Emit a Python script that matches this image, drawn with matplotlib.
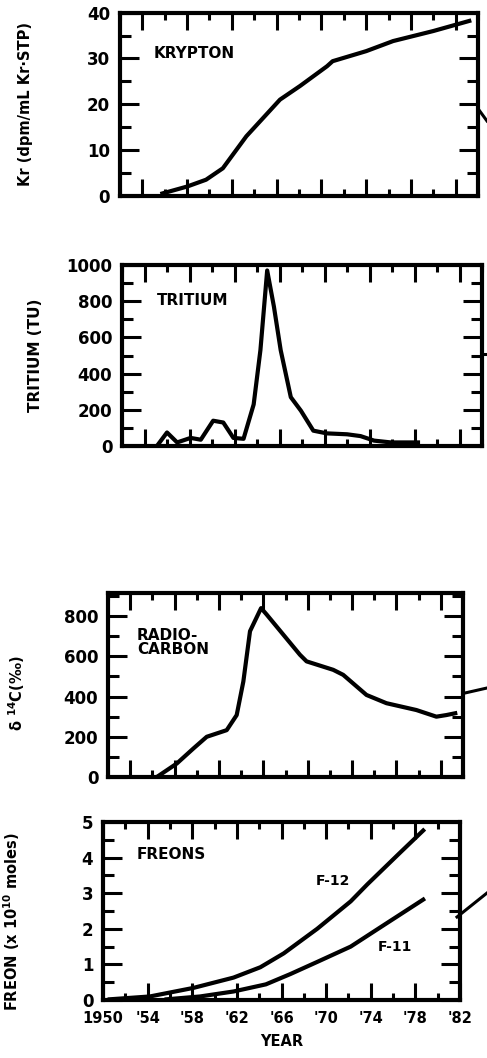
import numpy as np
import matplotlib.pyplot as plt
from matplotlib.lines import Line2D
from matplotlib.ticker import MultipleLocator

plt.rcParams['font.family'] = ['DejaVu Sans']
plt.rcParams['font.weight'] = 'bold'

# krypton-85
kr_year = [1953.8, 1956.0, 1957.7, 1959.2, 1961.3, 1964.3, 1966.1, 1968.5, 1969.0, 1972.0, 1974.4, 1978.0, 1981.2]
kr_val = [0.5, 2.0, 3.5, 6.0, 13.0, 21.0, 24.0, 28.3, 29.4, 31.6, 33.8, 36.0, 38.2]

# tritium
tr_year = [1953.1, 1954.0, 1954.9, 1956.1, 1957.0, 1958.1, 1959.0, 1959.9, 1960.8, 1961.7, 1962.3,
           1962.9, 1963.5, 1964.1, 1965.0, 1965.9, 1967.0, 1968.2, 1970.0, 1971.2, 1972.4, 1973.9, 1976.3]
tr_val = [0, 75, 20, 45, 35, 140, 130, 45, 40, 230, 530, 970, 770, 530, 270, 195, 85, 70, 65, 55, 30, 20, 20]

# radiocarbon delta 14C
c14_year = [1954.4, 1956.2, 1957.7, 1958.9, 1960.7, 1961.6, 1962.2, 1962.8, 1963.8, 1964.3, 1965.8,
            1967.3, 1967.9, 1970.3, 1971.2, 1973.3, 1975.1, 1977.8, 1979.6, 1980.5, 1981.3]
c14_val = [0, 67, 142, 200, 233, 308, 475, 725, 840, 808, 708, 608, 575, 533, 508, 408, 367, 333, 300, 308, 317]

# freons
f12_year = [1950.6, 1954.2, 1958.1, 1961.7, 1964.1, 1966.2, 1969.2, 1972.2, 1973.7, 1976.6, 1978.7]
f12_val = [0.02, 0.1, 0.34, 0.63, 0.92, 1.31, 2.0, 2.77, 3.25, 4.13, 4.76]
f11_year = [1955.7, 1958.7, 1961.7, 1964.6, 1966.8, 1969.2, 1972.2, 1975.1, 1978.7]
f11_val = [0.02, 0.1, 0.24, 0.44, 0.73, 1.07, 1.5, 2.09, 2.82]

year_ticks = [1950, 1954, 1958, 1962, 1966, 1970, 1974, 1978, 1982]
year_labels = ['1950', "'54", "'58", "'62", "'66", "'70", "'74", "'78", "'82"]

fig = plt.figure(figsize=(4.87, 10.58), dpi=100)

ax1 = fig.add_axes([0.246, 0.815, 0.736, 0.173])
ax2 = fig.add_axes([0.2505, 0.5784, 0.7395, 0.1711])
ax3 = fig.add_axes([0.2218, 0.2656, 0.7289, 0.1739])
ax4 = fig.add_axes([0.2115, 0.0548, 0.7331, 0.1683])

lw = 3.0


def style(ax, ymax, ymajor, yminor):
    ax.set_xlim(1950, 1982)
    ax.set_ylim(0, ymax)
    ax.xaxis.set_major_locator(MultipleLocator(4))
    ax.xaxis.set_minor_locator(MultipleLocator(2))
    ax.yaxis.set_major_locator(MultipleLocator(ymajor))
    ax.yaxis.set_minor_locator(MultipleLocator(yminor))
    ax.tick_params(axis='both', which='both', direction='in', top=True, right=True, width=2.2)
    ax.tick_params(axis='x', which='major', length=12)
    ax.tick_params(axis='x', which='minor', length=5)
    ax.tick_params(axis='y', which='major', length=14, labelsize=12, pad=7)
    ax.tick_params(axis='y', which='minor', length=8)
    for sp in ax.spines.values():
        sp.set_linewidth(3)
    ax.set_xticklabels([])


style(ax1, 40, 10, 5)
ax1.plot(kr_year, kr_val, color='black', lw=lw)
ax1.text(1953, 31, 'KRYPTON', fontsize=11, fontweight='bold', va='center')
ax1.set_ylabel('Kr (dpm/mL Kr·STP)', fontsize=10.5, fontweight='bold')
ax1.yaxis.set_label_coords(-0.243, 0.5)

style(ax2, 1000, 200, 100)
ax2.plot(tr_year, tr_val, color='black', lw=lw)
ax2.text(1953.1, 805, 'TRITIUM', fontsize=11, fontweight='bold', va='center')
ax2.set_ylabel('TRITIUM (TU)', fontsize=11, fontweight='bold')
ax2.yaxis.set_label_coords(-0.219, 0.5)

style(ax3, 915, 200, 100)
ax3.plot(c14_year, c14_val, color='black', lw=lw)
ax3.text(1952.6, 670, 'RADIO-\nCARBON', fontsize=11, fontweight='bold', va='center', linespacing=0.95)
ax3.set_ylabel('δ $^{14}$C(‰)', fontsize=10.5, fontweight='bold')
ax3.yaxis.set_label_coords(-0.228, 0.457)

style(ax4, 5, 1, 0.5)
ax4.plot(f12_year, f12_val, color='black', lw=lw)
ax4.plot(f11_year, f11_val, color='black', lw=lw)
ax4.text(1953, 4.1, 'FREONS', fontsize=11, fontweight='bold', va='center')
ax4.text(1969.1, 3.35, 'F-12', fontsize=10, fontweight='bold', va='center')
ax4.text(1974.6, 1.5, 'F-11', fontsize=10, fontweight='bold', va='center')
ax4.set_ylabel('FREON (x 10$^{10}$ moles)', fontsize=10.5, fontweight='bold')
ax4.yaxis.set_label_coords(-0.227, 0.438)
ax4.set_xticks(year_ticks)
ax4.set_xticklabels(year_labels, fontsize=10.5, fontweight='bold')
ax4.tick_params(axis='x', which='major', pad=8)
ax4.set_xlabel('YEAR', fontsize=10.5, fontweight='bold', labelpad=6)

# fragments of connecting lines at the right edge
W, H = 487.0, 1058.0
for (x0, y0, x1, y1) in [(479, 110, 487, 121), (482, 354, 487, 354),
                         (465, 693, 487, 688), (457, 917, 487, 893)]:
    fig.add_artist(Line2D([x0 / W, x1 / W], [1 - y0 / H, 1 - y1 / H],
                          color='black', lw=2.2, transform=fig.transFigure))

fig.savefig('out.png', dpi=100)
